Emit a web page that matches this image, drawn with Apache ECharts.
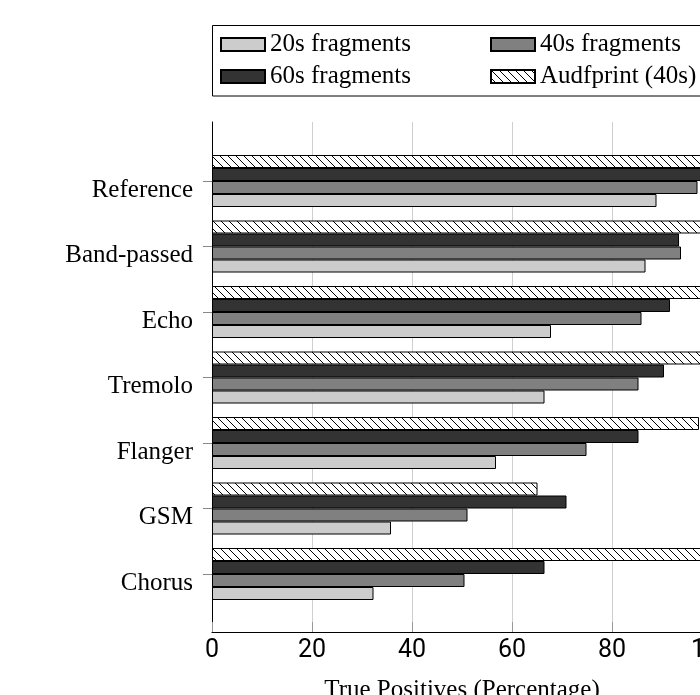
<!DOCTYPE html>
<html><head><meta charset="utf-8">
<script src="https://cdn.jsdelivr.net/npm/echarts@6/dist/echarts.min.js"></script>
<style>html,body{margin:0;padding:0;background:#fff}#c{width:700px;height:695px}</style>
</head><body><div id="c"></div>
<script>
const categories = ['Reference','Band-passed','Echo','Tremolo','Flanger','GSM','Chorus'];
const seriesNames = ['Audfprint (40s)','60s fragments','40s fragments','20s fragments'];
const audfprint = [100, 100, 100, 100, 97.4, 65.1, 100];
const frag60 = [99, 93.4, 91.6, 90.4, 85.3, 70.9, 66.5];
const frag40 = [97.1, 93.8, 85.9, 85.3, 74.9, 51.1, 50.5];
const frag20 = [88.9, 86.7, 67.8, 66.5, 56.8, 35.8, 32.3];
const xTicks = [0, 20, 40, 60, 80, 100];

const hatch = document.createElement('canvas');
hatch.width = 8; hatch.height = 8;
const hc = hatch.getContext('2d');
hc.fillStyle = '#fff'; hc.fillRect(0,0,8,8);
hc.strokeStyle = '#000'; hc.lineWidth = 1;
hc.beginPath(); hc.moveTo(-1,-1); hc.lineTo(9,9); hc.stroke();

const serif = '"Liberation Serif", "Times New Roman", serif';
const chart = echarts.init(document.getElementById('c'), null, {renderer:'canvas'});
const mk = (name, data, color) => ({
  name, type:'bar', data, xAxisIndex:1, yAxisIndex:1,
  barWidth:13, barGap:'0%',
  itemStyle:{color, borderColor:'#000', borderWidth:1}
});
chart.setOption({
  animation:false,
  grid:[
    {left:212, top:122, width:500, height:510, outerBoundsMode:'none'},
    {left:212, top:148.25, width:500, height:458.5, outerBoundsMode:'none'}
  ],
  legend:[
    {data:['20s fragments','60s fragments'], orient:'vertical', left:220, top:32, padding:0,
     itemWidth:44, itemHeight:13, itemGap:7, icon:'rect',
     textStyle:{fontFamily:serif, fontSize:25, color:'#000'}},
    {data:['40s fragments','Audfprint (40s)'], orient:'vertical', left:490, top:32, padding:0,
     itemWidth:44, itemHeight:13, itemGap:7, icon:'rect',
     textStyle:{fontFamily:serif, fontSize:25, color:'#000'}}
  ],
  graphic:[{type:'rect', shape:{x:212.5, y:25.5, width:510, height:70.5}, style:{fill:'none', stroke:'#000', lineWidth:1}, silent:true}],
  xAxis:[
    {gridIndex:0, type:'value', min:0, max:100, interval:20,
     axisLine:{show:true, lineStyle:{color:'#000', width:1}},
     axisTick:{show:true, inside:true, length:10, lineStyle:{color:'#999'}},
     splitLine:{show:true, lineStyle:{color:'#cfcfcf', width:1}},
     axisLabel:{fontFamily:'Roboto, sans-serif', fontSize:25, color:'#000', margin:6,
       formatter:v => xTicks.includes(v) ? String(v) : ''},
     name:'True Positives (Percentage)', nameLocation:'middle', nameGap:46,
     nameTextStyle:{fontFamily:serif, fontSize:25, color:'#000'}},
    {gridIndex:1, type:'value', min:0, max:100, show:false}
  ],
  yAxis:[
    {gridIndex:0, type:'value', min:0, max:1,
     axisLine:{show:true, lineStyle:{color:'#000', width:1}},
     axisTick:{show:false}, axisLabel:{show:false}, splitLine:{show:false}},
    {gridIndex:1, type:'category', data:categories, inverse:true,
     axisLine:{show:false},
     axisTick:{show:true, alignWithLabel:true, length:9, lineStyle:{color:'#888'}},
     axisLabel:{fontFamily:serif, fontSize:25, color:'#000', margin:19, verticalAlign:'top', lineHeight:18},
     splitLine:{show:false}}
  ],
  series:[
    mk('Audfprint (40s)', audfprint, {image:hatch, repeat:'repeat'}),
    mk('60s fragments', frag60, '#333333'),
    mk('40s fragments', frag40, '#808080'),
    mk('20s fragments', frag20, '#cccccc')
  ]
});
</script></body></html>
